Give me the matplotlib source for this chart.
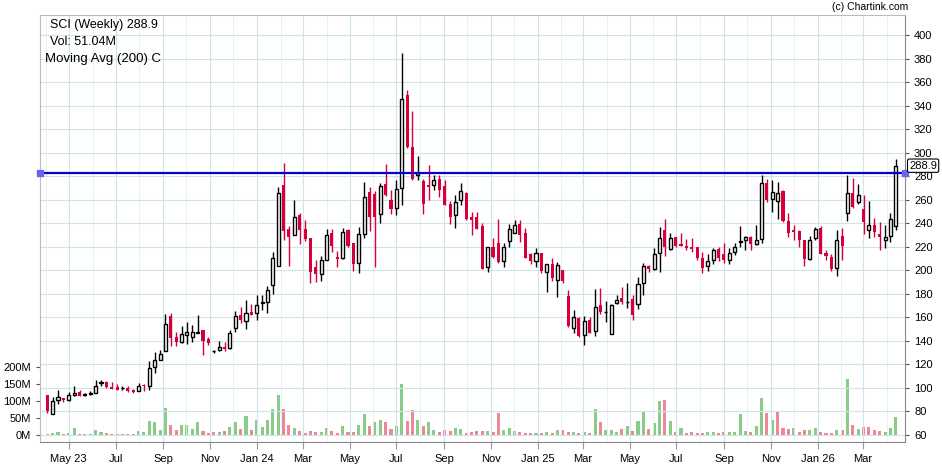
import numpy as np
import pandas as pd
import matplotlib
matplotlib.use('Agg')
import matplotlib.pyplot as plt
import matplotlib.dates as mdates

plt.rcParams['font.family'] = ['Liberation Sans', 'DejaVu Sans']

# weekly OHLC (approximate)
ohlc = [
    (94, 94, 79, 80), (78, 92, 78, 89), (90, 98, 86, 92), (91.5, 91.5, 87.7, 90), (89.7, 96.6, 89, 94),
    (94, 101.7, 93, 96), (96.6, 98.6, 93, 93.4), (94, 95.6, 93, 94.5), (94.6, 97, 94, 96), (96, 107, 96, 101.7),
    (104, 106.6, 101.7, 104.5), (104.6, 106, 100, 100.6), (101, 104.6, 99, 99.4), (100.8, 103, 98.3, 98.6), (99.7, 102, 98, 100),
    (100.3, 101.5, 96.6, 97), (98.6, 99.4, 95.6, 96.3), (97.4, 104, 97.4, 101.7), (102.5, 103.5, 97.7, 102), (102, 122.6, 98.3, 117),
    (117.7, 130.6, 112.6, 124), (124, 132, 124, 129), (131.4, 162.9, 131.4, 154), (161, 164, 135.7, 142.6), (143, 147.4, 135.7, 139),
    (139, 152.6, 138, 145.7), (144.8, 156, 137.6, 147.4), (143.4, 153.4, 139, 147.4), (147, 162, 146.6, 147.7), (149, 149, 128, 139.7),
    (141.4, 143.4, 136.6, 138.3), (131, 132.6, 129.7, 131), (132.3, 139.7, 131.4, 134.6), (135, 139, 131.7, 133), (133.7, 149, 133, 146.9),
    (150.6, 165.4, 147.7, 161), (162, 168.6, 155.4, 157.7), (156.9, 174.9, 150, 163.4), (164.3, 171.4, 162, 162), (163.4, 179, 158, 170.6),
    (172, 178.6, 166, 172.6), (173.4, 186.9, 163.7, 183.4), (187.4, 215.4, 180, 210), (203.4, 270.6, 203.4, 265.7), (272.6, 291.4, 226, 233.4),
    (234.9, 238, 204, 228.6), (230.3, 259.7, 230.3, 245.7), (246.9, 248.6, 222, 234.3), (234.9, 242.6, 224.9, 226.3), (227, 227, 189, 198.3),
    (202.9, 208.3, 189.7, 196.9), (197.1, 212, 191, 209), (209, 234.9, 209, 230), (232, 234.9, 215.4, 220.6), (211, 216.6, 202.9, 209.7),
    (210, 236, 209.4, 232.3), (234.3, 235.4, 220, 220.6), (223.4, 223.4, 199, 205), (206.3, 237, 197.7, 230.6), (230.6, 275, 227, 262.3),
    (266.6, 270.6, 233.4, 244.9), (265, 267, 202.9, 245.7), (247.7, 274.3, 240, 272), (273.7, 290, 262.9, 264.3), (260, 268.6, 248, 252),
    (252.9, 277, 246.6, 269), (270, 385, 255.7, 346), (349, 352.9, 303.7, 304.9), (304.9, 335.7, 277.1, 277.7), (280.9, 297, 276.6, 282.9),
    (275.7, 277.7, 248, 256.6), (272.3, 289.4, 259.4, 270.6), (272.3, 281.4, 268, 277), (278, 280.6, 262, 268.6), (271.4, 277, 255.1, 255.7),
    (256.6, 259, 239.4, 245.7), (246.6, 264.3, 236.3, 258), (259.7, 274.3, 255.7, 267.7), (265.7, 266.6, 242.9, 243.7), (245, 249.4, 230, 242.9),
    (245, 249.4, 235, 235), (237.7, 240, 201, 201.4), (202.9, 219.9, 198.6, 219.4), (219.4, 227.4, 210, 211.4), (222.9, 243.4, 206.3, 207),
    (208, 222.9, 202.9, 220), (224.6, 239.4, 220, 234.9), (232, 242.9, 231.4, 238.3), (239.4, 242.9, 224, 230), (231.4, 235.7, 210, 210.6),
    (213.4, 214.3, 205.7, 208), (208, 218.6, 202.9, 214.3), (215, 215, 198, 199), (198.6, 199, 181.4, 204.9), (205, 210, 190.9, 193.4),
    (192, 207, 177, 204.3), (200, 200.6, 189.4, 190.9), (177.7, 182.9, 151.4, 152.3), (150.9, 166, 146.3, 160), (159, 160.6, 142.9, 144.3),
    (144.9, 161.4, 136.6, 157), (158, 160.6, 146.6, 147), (148, 184.3, 143.7, 169), (170.6, 185, 162.9, 164.3), (164.3, 174, 155.7, 164.6),
    (145.7, 171.4, 145.7, 170.6), (172, 178.6, 171.4, 175), (176.6, 185.7, 171.4, 173), (172.6, 189, 167.7, 173),
    (175.9, 178.7, 157.4, 161.6), (171.6, 194, 167, 188.4), (189.2, 206.3, 178.7, 203.4), (203.4, 204.8, 198.6, 201), (201, 219, 200.4, 213.9),
    (214.8, 236.9, 198.3, 227.6), (234.6, 243.2, 211.9, 219.6), (218.2, 231.3, 217, 227.6), (228.4, 228.4, 219.6, 220.5), (222.4, 231.8, 220.4, 221),
    (220.5, 226.3, 217.6, 218.8), (219.6, 227, 215.6, 218.2), (219.6, 219.9, 209, 210), (210, 215.6, 197.7, 202), (203.4, 214.2, 199, 208.2),
    (209.1, 219, 205.7, 216.8), (218.2, 219.6, 207.7, 210), (213.4, 223.3, 206, 208.5), (209, 218.8, 205.1, 214.8), (215.4, 222.9, 213.1, 219.9),
    (224, 238, 219.6, 225), (225.6, 229.5, 217.3, 228.4), (228.4, 229.5, 216.8, 222.2), (222.4, 238.4, 221.5, 225.6), (226.7, 281, 223.3, 274.4),
    (274.4, 277.8, 257.9, 259.7), (260.2, 277, 249.7, 266.8), (258.8, 275.3, 243.8, 265.9), (267.4, 268, 241, 241.8), (241.8, 248.9, 228.4, 231.8),
    (233.8, 238.9, 225.6, 232.7), (233.2, 233.8, 219.6, 225.6), (225.6, 226.1, 203.4, 209.7), (209.7, 229, 208.3, 225.6), (227.6, 237, 226.1, 235.2),
    (235.5, 237.5, 213.4, 214.2), (214.8, 217.6, 209, 212.5), (211.4, 213.4, 199, 201.4), (202, 233.8, 194.9, 225.6), (229.5, 235.5, 209, 221),
    (248.9, 280.7, 241.8, 265.3), (265.3, 278.7, 253.1, 254), (258, 273, 256, 263.6), (252.3, 263.6, 230.4, 240.9), (234.1, 258.8, 227.6, 238.9),
    (238.9, 244.6, 228.1, 232.4), (230.4, 240.9, 217, 228.4), (226.1, 238.1, 218.5, 228.4), (229.5, 248.3, 224, 243.8), (237.5, 294.3, 234.6, 288.9),
]
opens = [r[0] for r in ohlc]
highs = [r[1] for r in ohlc]
lows = [r[2] for r in ohlc]
closes = [r[3] for r in ohlc]

# weekly volume in millions
volumes = [
    3, 6, 9, 3, 6, 21, 3, 3, 3, 15, 9, 6, 3, 3, 3, 3, 3, 12, 9, 41,
    38, 15, 80, 29, 15, 29, 29, 18, 38, 12, 6, 9, 9, 12, 23, 38, 18, 56, 15, 44,
    23, 44, 76, 118, 76, 29, 21, 12, 6, 12, 9, 9, 21, 12, 6,
    25, 10, 10, 29, 62, 25, 38, 44, 38, 19, 26, 150, 42, 74, 44, 26, 38, 15, 10, 15,
    12, 21, 19, 7, 10, 12, 12, 12, 10, 65, 15, 21, 12, 10, 7, 7, 7, 7, 10, 7,
    15, 15, 10, 10, 7, 10, 7, 76, 38, 15, 15, 10, 19, 26,
    12, 41, 68, 19, 34, 100, 103, 41, 9, 21, 6, 9, 6, 6, 9, 9, 6, 9, 9, 9,
    62, 12, 9, 26, 109, 65, 44, 71, 21, 18, 21, 9, 15, 15, 21, 9, 6, 6, 15, 15,
    165, 29, 18, 24, 24, 15, 12, 9, 21, 53,
]

dates = pd.date_range('2023-04-03', periods=len(closes), freq='7D')
resistance = 283.0
last_price = 288.9

x = mdates.date2num(dates)
o = np.array(opens)
h = np.array(highs)
l = np.array(lows)
c = np.array(closes)

fig = plt.figure(figsize=(9.42, 4.65), dpi=100)
ax = fig.add_axes([40 / 942, 23 / 465, 865 / 942, 427 / 465])

# volume on its own scale, drawn behind the candles
vax = ax.twinx()
vax.set_ylim(-20.6, 1235)
vcol = ['#88cc88'] + ['#88cc88' if c[i] >= c[i - 1] else '#ee8899' for i in range(1, len(c))]
vax.bar(x, volumes, width=4.0, color=vcol, zorder=2)
vax.yaxis.tick_left()
vax.set_yticks([0, 50, 100, 150, 200])
vax.set_yticklabels(['0M', '50M', '100M', '150M', '200M'])
vax.tick_params(axis='y', labelsize=8, length=3, colors='#555555', labelcolor='black')
for s in vax.spines.values():
    s.set_visible(False)
ax.set_zorder(vax.get_zorder() + 1)
ax.patch.set_visible(False)
vax.patch.set_visible(True)
vax.patch.set_facecolor('white')

RED = '#d5003a'
w = 4.0
for xi, oi, hi, li, ci in zip(x, o, h, l, c):
    if ci >= oi:
        ax.vlines(xi, li, hi, color='black', lw=1.0, zorder=3)
        ax.bar(xi, max(ci - oi, 0.6), width=w, bottom=oi, facecolor='white',
               edgecolor='black', lw=1.0, zorder=4)
    else:
        ax.vlines(xi, li, hi, color=RED, lw=1.0, zorder=3)
        ax.bar(xi, oi - ci, width=w, bottom=ci, color=RED, lw=0, zorder=4)

ax.set_ylim(54, 417)
ax.set_xlim(x[0] - 9.5, x[-1] + 12)
ax.yaxis.tick_right()
ax.set_yticks(np.arange(60, 401, 20))
ax.tick_params(axis='y', labelsize=8, length=3, colors='#555555', labelcolor='black',
               left=False, labelleft=False, right=True, labelright=True)
ax.tick_params(axis='x', labelsize=8, length=5, colors='#999999', labelcolor='black',
               bottom=True, labelbottom=True)
ax.tick_params(axis='x', which='minor', length=0)

ax.xaxis.set_major_locator(mdates.MonthLocator(bymonth=[1, 3, 5, 7, 9, 11]))
ax.xaxis.set_minor_locator(mdates.MonthLocator())


def fmt(val, pos=None):
    d = mdates.num2date(val)
    if d.month == 1 or pos == 0:
        return d.strftime('%b %y')
    return d.strftime('%b')


ax.xaxis.set_major_formatter(plt.FuncFormatter(fmt))
ax.grid(True, which='major', color='#cfe3ea', lw=0.8)
ax.grid(True, which='minor', axis='x', color='#e4eff3', lw=0.6)
ax.set_axisbelow(True)
for s in ['top', 'left']:
    ax.spines[s].set_color('#bbbbbb')
ax.spines['right'].set_color('#888888')
ax.spines['bottom'].set_color('#888888')

# resistance line with end handles
ax.axhline(resistance, color='#0000dd', lw=1.6, zorder=5)
ax.plot([ax.get_xlim()[0] + 0.5, ax.get_xlim()[1] - 0.5], [resistance] * 2, 's',
        color='#6666ee', ms=5, zorder=6, clip_on=False)

ax.annotate(f'{last_price}', xy=(1.0, last_price), xycoords=('axes fraction', 'data'),
            xytext=(3, 0), textcoords='offset points', va='center', ha='left', fontsize=8,
            bbox=dict(boxstyle='round,pad=0.15', fc='white', ec='black', lw=0.8), zorder=10)

ax.text(0.012, 0.977, f'SCI (Weekly) {last_price}', transform=ax.transAxes, fontsize=9, va='center')
ax.text(0.012, 0.937, 'Vol: 51.04M', transform=ax.transAxes, fontsize=9, va='center')
ax.text(0.006, 0.897, 'Moving Avg (200) C', transform=ax.transAxes, fontsize=9.5, va='center')
fig.text(908 / 942, 1 - 7 / 465, '(c) Chartink.com', fontsize=7.5, ha='right', va='center')

fig.savefig('out.png', dpi=100)
